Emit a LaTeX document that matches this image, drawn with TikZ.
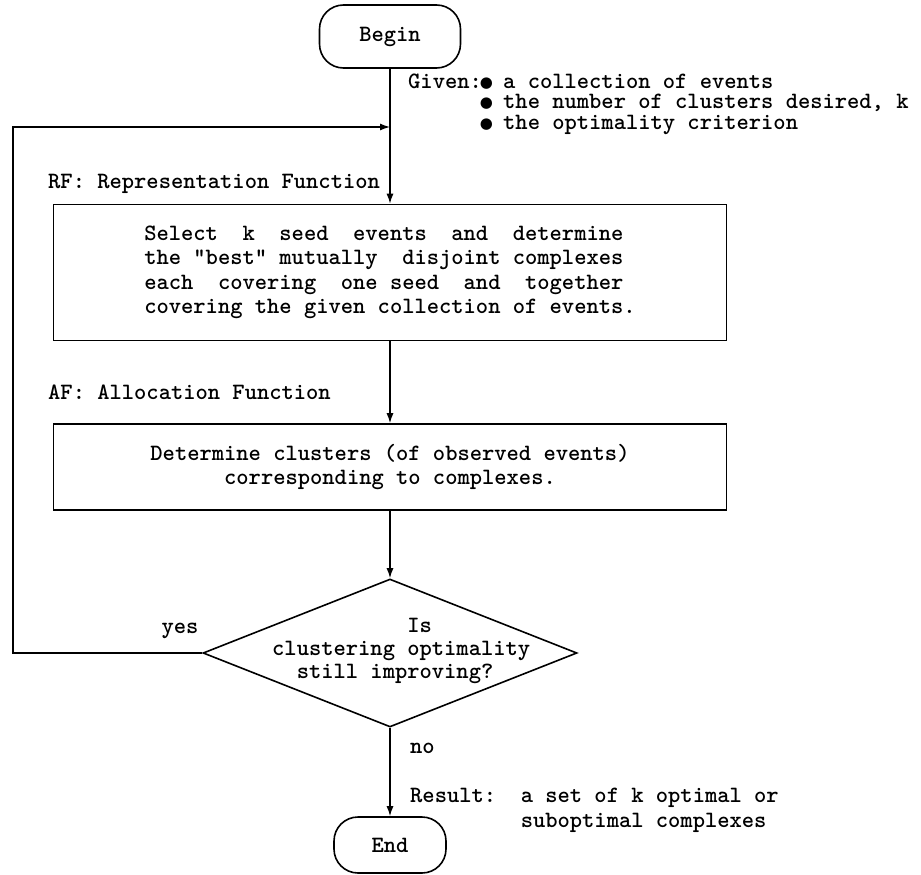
\documentclass[tikz,border=0pt]{standalone}
\usepackage{fontspec}
\setmonofont{lmmonolt10-bold.otf}
\newfontfamily\symfont{DejaVu Sans}
\usetikzlibrary{arrows.meta,shapes.geometric}
\newcommand\dotmark{\raisebox{1pt}{\makebox[9pt]{\symfont\fontsize{15}{15}\selectfont ●}}}
\begin{document}
\begin{tikzpicture}[x=1pt,y=-1pt,
    every node/.style={font=\ttfamily\fontsize{23.4}{24.5}\selectfont, inner sep=0pt},
    terminal/.style={draw, rounded corners=24pt, line width=1.6pt},
    procbox/.style={draw, line width=1.6pt, minimum width=673pt, align=left},
    decision/.style={draw, diamond, line width=1.6pt, minimum width=374pt, minimum height=148pt},
    arr/.style={-{Latex[length=10pt,width=7pt]}, line width=1.3pt}]
\useasboundingbox (0,0) rectangle (921,875);

\node[terminal, minimum width=141pt, minimum height=63pt] (begin) at (390,36.5) {Begin};
\node[anchor=base west, align=left, font=\ttfamily\fontsize{23.4}{20.5}\selectfont] (given) at (408,129)
    {Given:\dotmark~a collection of events\\
     \phantom{Given:}\dotmark~the number of clusters desired, k\\
     \phantom{Given:}\dotmark~the optimality criterion};

\node[anchor=base west] (rflabel) at (48,188) {RF: Representation Function};
\node[procbox, minimum height=136pt] (rf) at (390,272.5)
    {Select~~k~~seed~~events~~and~~determine\\
     the "best" mutually~~disjoint complexes\\
     each~~covering~~one seed~~and~~together\\
     covering the given collection of events.};

\node[anchor=base west] (aflabel) at (48,399) {AF: Allocation Function};
\node[procbox, align=center, minimum height=86pt] (af) at (390,467)
    {Determine clusters (of observed events)\\
     corresponding to complexes.};

\node[decision] (test) at (390,653) {};
\node[anchor=base west, align=left, font=\ttfamily\fontsize{23.4}{23}\selectfont] (testtext) at (272,678)
    {~~~~~~~~~~~Is\\
     clustering optimality\\
     ~~still improving?};

\node[anchor=base] (yes) at (180,633) {yes};
\node[anchor=base west] (no) at (410,753) {no};
\node[anchor=base west, align=left] (result) at (410,827)
    {Result:~~a set of k optimal or\\
     \phantom{Result:~~}suboptimal complexes};

\node[terminal, minimum width=112pt, minimum height=56pt] (end) at (390,845) {End};

\coordinate (back) at (13,127);
\draw[arr] (begin) -- (rf);
\draw[arr] (rf) -- (af);
\draw[arr] (af) -- (test);
\draw[arr] (test) -- (end);
\draw[arr] (test.west) -| (back) -- (back -| begin.south);
\end{tikzpicture}
\end{document}
